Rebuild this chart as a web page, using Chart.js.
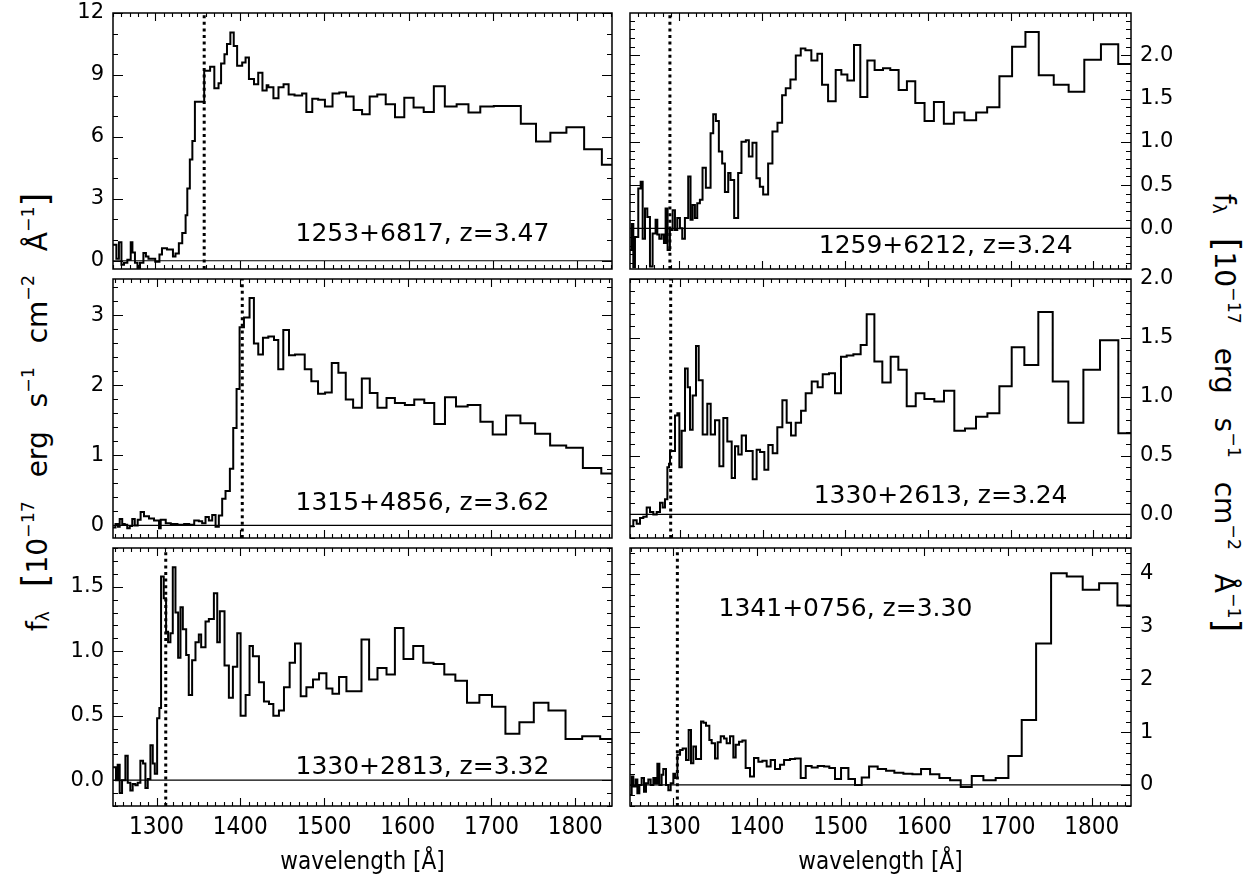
<!DOCTYPE html>
<html>
<head>
<meta charset="utf-8">
<title>Quasar spectra</title>
<script src="https://cdn.jsdelivr.net/npm/chart.js@4.4.1/dist/chart.umd.min.js"></script>
<style>
  html, body { margin: 0; padding: 0; background: #fff; }
  body { position: relative; width: 1249px; height: 886px; overflow: hidden; }
  .panel { position: absolute; }
  .ytitle { position: absolute; white-space: nowrap; font-family: 'DejaVu Sans', sans-serif;
            font-size: 28px; color: #000; word-spacing: 15px; }
  .ytitle sup { font-size: 62%; vertical-align: 0.75em; line-height: 0; word-spacing: 0; }
  .ytitle sub { font-size: 62%; vertical-align: -0.1em; line-height: 0; }
  .ytitle .br { font-size: 125%; }
</style>
</head>
<body>
<div class="ytitle" style="left:35px;top:412px;transform:translate(-50%,-50%) rotate(-90deg)">f<sub>λ</sub> <span class="br">[</span>10<sup>−17</sup> erg s<sup>−1</sup> cm<sup>−2</sup> Å<sup>−1</sup><span class="br">]</span></div>
<div class="ytitle" style="left:1227px;top:413px;transform:translate(-50%,-50%) rotate(90deg)">f<sub>λ</sub> <span class="br">[</span>10<sup>−17</sup> erg s<sup>−1</sup> cm<sup>−2</sup> Å<sup>−1</sup><span class="br">]</span></div>

<script>
// object names shown inside each panel
const names = ['1253+6817, z=3.47', '1259+6212, z=3.24', '1315+4856, z=3.62',
               '1330+2613, z=3.24', '1330+2813, z=3.32', '1341+0756, z=3.30'];

// dotted marker lines (wavelength)
const markers = [1358, 1288.7, 1402.4, 1288.7, 1311, 1304.9];

// labelled wavelength ticks
const xTickValues = [1300, 1400, 1500, 1600, 1700, 1800];

// spectra: bin left edges (last value = right edge of last bin) and flux per bin
const wl1 = [1250,1254,1257,1260,1263,1267,1271,1273,1276,1279,1282,1286,1289,1292,1300,1305,1308,1314,1321,1324,
  1328,1332,1336,1338,1341,1344,1347,1358,1365,1370,1375,1378,1382,1385,1389,1393,1397,1403,1407,1411,
  1417,1422,1427,1432,1434,1440,1446,1452,1458,1465,1474,1479,1486,1493,1501,1510,1518,1526,1535,1545,
  1554,1563,1573,1584,1595,1606,1618,1630,1643,1657,1671,1685,1701,1716,1733,1751,1768,1787,1808,1829,1841];
const fx1 = [0.77,0.1,0.9,-0.2,-0.1,0.05,0.9,0.4,-0.1,-0.35,-0.1,0.37,0.2,0.1,-0.05,0.3,0.6,0.55,0.2,0.35,
  0.85,1.34,2.2,3.5,4.9,5.8,7.7,9.2,9.4,8.35,8.6,9.55,10.0,10.5,11.05,10.4,9.45,9.6,9.85,8.8,
  8.55,9.1,8.25,8.5,8.4,7.87,8.4,8.55,8.05,8.0,8.1,7.2,7.85,7.8,7.47,8.1,8.15,7.95,7.3,7.1,
  7.95,8.05,7.58,6.95,7.9,7.42,7.2,8.45,7.47,7.58,7.18,7.47,7.5,7.5,6.63,5.77,6.2,6.47,5.4,4.65];

const wl2 = [1240.5,1242.5,1244.5,1246.5,1250.5,1253.4,1255.8,1258.6,1261.4,1264.6,1267.8,1271.4,1273.5,1275.9,1278.7,
  1281.5,1283.5,1285.9,1288.7,1292,1294.8,1297.6,1300.8,1303.6,1306.8,1310.8,1313.6,1316.1,1318.9,1321.7,
  1324.9,1328.1,1332.1,1337.8,1341,1344.2,1347.8,1351.8,1355.1,1359.1,1361.9,1366.3,1371.1,1375.1,1380.4,
  1384,1388.4,1393.2,1397.3,1401.3,1407.3,1412.5,1418.6,1424.2,1428.6,1434.2,1440.7,1446.7,1452.3,1459.5,
  1466.8,1472.4,1479.7,1488.9,1495.7,1503,1511,1518.6,1527.1,1535.9,1546,1554.8,1564.9,1574.9,1585,
  1596.2,1607.5,1619.5,1631.6,1644.4,1658.5,1671.8,1686.6,1701.9,1718,1734.1,1752.2,1770.2,1789.1,1809.2,
  1830.1,1845.5];
const fx2 = [-0.25,0.05,-0.45,-0.1,0.46,0.54,-0.12,0.23,0.13,-0.44,-0.06,0.1,-0.07,-0.12,-0.07,
  -0.17,0.23,-0.25,-0.02,0.21,-0.02,0.12,0,-0.12,0.12,0.6,0.1,0.27,0.12,0.29,
  0.33,0.7,0.47,1.1,1.32,1.24,0.89,0.75,0.42,0.64,0.56,0.12,0.64,1.0,1.02,
  0.83,0.99,0.58,0.48,0.39,0.75,1.12,1.22,1.54,1.62,1.72,2.0,2.08,2.06,1.94,
  2.02,1.66,1.47,1.83,1.78,1.71,2.12,1.52,1.94,1.83,1.85,1.83,1.6,1.7,1.45,
  1.24,1.46,1.21,1.34,1.25,1.34,1.4,1.76,2.1,2.27,1.77,1.66,1.58,1.95,2.13,1.9];

const wl3 = [1248,1251,1254,1256,1259,1262,1265,1268,1271,1274,1277.5,1281,1285,1291,1297,1303,1305,1311,1317,1325,
  1333,1339,1345,1350.5,1354.5,1358.5,1362.5,1366.5,1370.5,1374.4,1378.4,1382.4,1387.6,1391.6,1395.6,1399.2,
  1404.4,1411.1,1416.3,1421.5,1427.1,1433.5,1440.3,1445.4,1451.4,1458.2,1465.4,1477,1484.9,1492.9,
  1501.3,1509.3,1517.2,1526,1534.8,1545.2,1554.7,1563.9,1574.7,1584.7,1596.6,1607.8,1619.8,1631.7,1644.5,
  1657.7,1671.6,1686.8,1701.5,1717.5,1734.6,1752.2,1770.1,1789.3,1809.2,1831.2,1844];
const fx3 = [-0.03,0.02,-0.02,0.09,0.02,0.01,-0.04,-0.01,0.09,0,0.08,0.19,0.13,0.1,0.07,-0.04,0.08,0.03,0.02,0.01,
  0.02,0.01,0.07,0.06,0.03,0.12,0.07,0.15,-0.02,0.14,0.38,0.49,0.81,1.39,1.95,2.83,
  2.97,3.25,2.6,2.44,2.68,2.7,2.65,2.23,2.79,2.43,2.44,2.23,2.06,1.88,
  1.9,2.32,2.18,1.8,1.68,2.1,1.89,1.68,1.82,1.75,1.72,1.8,1.75,1.45,1.83,
  1.7,1.72,1.48,1.3,1.57,1.46,1.31,1.14,1.11,0.82,0.74];

const wl4 = [1239.5,1243.5,1247.6,1251.6,1255.6,1259.7,1263.7,1267.7,1271.8,1275.8,1279,1281.8,1284.7,1286.7,1287.9,
  1293.9,1296.8,1299.2,1302,1306,1309.3,1312.1,1315.3,1319.3,1322.6,1327.4,1333,1337.1,1342.3,1347.6,
  1352.4,1357.2,1362.5,1366.5,1370.5,1374.6,1379.8,1387.9,1392.7,1396.8,1402,1406.8,1412.1,1417.7,1423.8,
  1429,1434.3,1439.9,1446.4,1452,1459.3,1466.5,1472.6,1480.2,1487.5,1494.7,1501.6,1509.7,1518.5,1525.8,
  1535.1,1544.7,1554.8,1564.1,1574.2,1585.1,1595.6,1607.6,1619.3,1631.8,1644.7,1658,1671.8,1686.3,1701.2,
  1716.5,1733.4,1750.8,1769.7,1787.9,1808,1830.2,1845.5];
const fx4 = [-0.1,-0.05,-0.08,-0.03,-0.02,0.06,0.02,0,0.02,0.1,0.06,0.13,0.4,0.43,0.54,
  0.84,0.86,0.4,0.71,1.24,1.08,0.72,1.01,1.43,1.14,0.68,0.94,0.68,0.8,0.41,
  0.82,0.62,0.31,0.58,0.51,0.67,0.54,0.3,0.55,0.53,0.38,0.59,0.52,0.74,0.97,
  0.78,0.67,0.78,0.88,1.03,1.13,1.08,1.19,1.2,1.03,1.34,1.35,1.36,1.44,1.7,
  1.3,1.12,1.34,1.23,0.92,1.03,0.98,0.96,1.05,0.71,0.73,0.83,0.86,1.09,1.42,
  1.27,1.72,1.13,0.78,1.23,1.48,0.69];

const wl5 = [1248,1251.6,1253.6,1256,1258.8,1262.8,1265.6,1268.7,1271.5,1274.7,1277.5,1280.7,1283.9,1286.7,1289.5,
  1292.7,1295.5,1297.9,1300.7,1303.4,1305.4,1308.6,1311.4,1313.8,1316.6,1319.4,1322.6,1325.8,1328.6,1331.4,
  1335.4,1338.5,1342.5,1346.5,1350.5,1353.3,1358.5,1362.5,1368.5,1372.5,1375.6,1381.2,1386.4,1391.2,1396.4,
  1400.4,1406.4,1411.1,1415.1,1422.3,1428.3,1434.3,1439.5,1446.2,1452.2,1459,1465.4,1472.2,1479,1486.9,
  1494.1,1502.9,1510.1,1518,1526.8,1536,1544.8,1553.9,1563.9,1574.7,1584.7,1595,1606.6,1618.6,1630.9,
  1643.7,1656.9,1670.8,1685.6,1700.7,1716.7,1733.4,1750.6,1768.1,1788.5,1808.4,1829.9,1844];
const fx5 = [0.1,0,0.12,-0.1,0,0.19,-0.02,-0.08,-0.03,-0.04,-0.02,0.15,0.13,-0.06,0.01,
  0.27,0.13,0.05,0.48,0.56,1.58,1.41,1.15,1.07,1.14,1.65,1.3,0.95,1.34,1.17,
  0.97,0.66,0.93,1.07,1.13,1.03,1.23,1.25,1.45,1.07,1.31,0.89,0.64,0.88,1.14,
  0.5,0.66,1.04,0.96,0.76,0.61,0.59,0.5,0.54,0.72,0.91,1.06,0.65,0.72,0.78,
  0.83,0.71,0.67,0.8,0.69,0.69,1.09,0.78,0.87,0.82,1.18,0.94,1.04,0.91,0.9,
  0.82,0.77,0.6,0.66,0.57,0.36,0.45,0.6,0.54,0.32,0.34,0.32];

const wl6 = [1248.3,1250.3,1252.3,1255.1,1257.1,1259.5,1262.2,1265,1267.4,1270.2,1273,1276.2,1278.6,1281,1283.4,
  1286.1,1288.1,1291.3,1294.1,1296.9,1300.1,1302.1,1304.9,1308.1,1311.2,1315.2,1318.4,1321.2,1324,1327.2,
  1330,1333.2,1336,1339.1,1343.1,1345.9,1349.9,1353.1,1356.7,1360.7,1363.8,1367.8,1371.8,1374.6,1378.6,
  1382.6,1386.5,1391.7,1396.5,1401.7,1406.5,1411.6,1416.4,1421.6,1427.6,1432.4,1439.5,1445.5,1452.3,1458.3,
  1465.4,1472.6,1480.2,1486.5,1493.3,1500.5,1509.3,1517.2,1525.2,1534,1544.3,1554.3,1564.2,1575,1585.8,
  1596.1,1606.9,1618,1630.8,1643.5,1656.7,1670.6,1685.3,1700.5,1716.4,1733.6,1751.5,1770.2,1789.3,1808.9,
  1830.8,1847];
const fx6 = [-0.19,0.16,-0.03,0.1,-0.16,0,0.13,-0.13,0.03,0.1,0,0.13,0.03,0.4,0,
  0.19,0.3,0,-0.1,0.03,0.21,0.13,0.57,0.66,0.69,0.47,1.04,0.41,0.73,0.49,
  0.49,1.2,1.18,1.12,0.85,0.79,0.5,0.81,0.92,0.88,0.79,0.92,0.52,0.76,0.82,
  0.84,0.32,0.16,0.51,0.44,0.46,0.35,0.47,0.3,0.38,0.47,0.49,0.5,0.13,0.36,
  0.33,0.36,0.35,0.32,0.11,0.32,0.11,0,0.14,0.35,0.3,0.27,0.23,0.21,0.2,
  0.3,0.2,0.13,0.09,-0.04,0.17,0.09,0.13,0.55,1.23,2.68,4.01,3.95,3.7,3.82,
  3.4];

// panel layout: axis ranges, tick steps, where the name goes (fraction of plot box)
const panels = [
  {wl: wl1, fx: fx1, xr: [1250, 1841],     yr: [-0.4, 12],    yMajor: 3,   yMinor: 1,   dec: 0, col: 0, row: 0, pos: [0.62, 0.867]},
  {wl: wl2, fx: fx2, xr: [1240.5, 1845.5], yr: [-0.47, 2.49], yMajor: 0.5, yMinor: 0.1, dec: 1, col: 1, row: 0, pos: [0.63, 0.914]},
  {wl: wl3, fx: fx3, xr: [1248, 1844],     yr: [-0.18, 3.52], yMajor: 1,   yMinor: 0.2, dec: 0, col: 0, row: 1, pos: [0.62, 0.865]},
  {wl: wl4, fx: fx4, xr: [1239.5, 1845.5], yr: [-0.2, 2.0],   yMajor: 0.5, yMinor: 0.1, dec: 1, col: 1, row: 1, pos: [0.62, 0.84]},
  {wl: wl5, fx: fx5, xr: [1248, 1844],     yr: [-0.2, 1.8],   yMajor: 0.5, yMinor: 0.1, dec: 1, col: 0, row: 2, pos: [0.62, 0.85]},
  {wl: wl6, fx: fx6, xr: [1248.3, 1847],   yr: [-0.4, 4.49],  yMajor: 1,   yMinor: 0.2, dec: 0, col: 1, row: 2, pos: [0.43, 0.24]}
];

// boxes around each canvas so the plot area lands where the figure has it
const cols = [
  {left: 13,  width: 607, padL: 0,  padR: 8, yW: 100, side: 'left'},
  {left: 616, width: 633, padL: 14, padR: 0, yW: 118, side: 'right'}
];
const rows = [
  {top: -1,  height: 275, padT: 14, xH: 5},
  {top: 265, height: 278, padT: 14, xH: 5},
  {top: 534, height: 352, padT: 14, xH: 80}
];

const FONT = "'DejaVu Sans', sans-serif";
const NARROW = "'Liberation Sans Narrow', 'DejaVu Sans Condensed', 'DejaVu Sans', sans-serif";

function isMajor(v, step) {
  const r = v / step;
  return Math.abs(r - Math.round(r)) < 1e-6;
}

// IDL-like box: frame, inward ticks on all four sides, object name
const boxPlugin = {
  id: 'boxPlugin',
  afterDatasetsDraw(chart, args, o) {
    const {ctx, chartArea: a} = chart;
    const x = chart.scales.x, y = chart.scales.y;
    ctx.save();
    ctx.strokeStyle = '#000';
    ctx.lineWidth = 1.5;
    ctx.strokeRect(a.left, a.top, a.right - a.left, a.bottom - a.top);
    ctx.lineWidth = 1.1;
    ctx.beginPath();
    for (let k = Math.ceil(x.min / o.xMinor - 1e-6); k * o.xMinor <= x.max + 1e-6; k++) {
      const v = k * o.xMinor;
      const px = Math.round(x.getPixelForValue(v)) + 0.5;
      const len = isMajor(v, o.xMajor) ? 8 : 4;
      ctx.moveTo(px, a.bottom); ctx.lineTo(px, a.bottom - len);
      ctx.moveTo(px, a.top); ctx.lineTo(px, a.top + len);
    }
    for (let k = Math.ceil(y.min / o.yMinor - 1e-6); k * o.yMinor <= y.max + 1e-6; k++) {
      const v = k * o.yMinor;
      const py = Math.round(y.getPixelForValue(v)) + 0.5;
      const len = isMajor(v, o.yMajor) ? 10 : 5;
      ctx.moveTo(a.left, py); ctx.lineTo(a.left + len, py);
      ctx.moveTo(a.right, py); ctx.lineTo(a.right - len, py);
    }
    ctx.stroke();
    ctx.fillStyle = '#000';
    ctx.font = '25px ' + FONT;
    ctx.textAlign = 'center';
    ctx.textBaseline = 'middle';
    ctx.fillText(o.name, a.left + o.pos[0] * (a.right - a.left), a.top + o.pos[1] * (a.bottom - a.top));
    ctx.restore();
  }
};

panels.forEach((p, i) => {
  const c = cols[p.col], r = rows[p.row];
  const bottomRow = p.row === 2;

  const box = document.createElement('div');
  box.className = 'panel';
  box.style.left = c.left + 'px';
  box.style.top = r.top + 'px';
  const canvas = document.createElement('canvas');
  canvas.width = c.width;
  canvas.height = r.height;
  box.appendChild(canvas);
  document.body.appendChild(box);

  // steps: each flux value holds from its edge to the next one
  const spectrum = p.fx.map((f, j) => ({x: p.wl[j], y: f}));
  spectrum.push({x: p.wl[p.wl.length - 1], y: p.fx[p.fx.length - 1]});

  // major flux ticks: multiples of yMajor inside the range
  const yTickValues = [];
  for (let k = Math.ceil(p.yr[0] / p.yMajor - 1e-6); k * p.yMajor <= p.yr[1] + 1e-6; k++) {
    yTickValues.push(+(k * p.yMajor).toFixed(3));
  }

  new Chart(canvas, {
    type: 'line',
    data: {
      datasets: [
        {data: [{x: p.xr[0], y: 0}, {x: p.xr[1], y: 0}], borderColor: '#000', borderWidth: 1.2, pointRadius: 0},
        {data: [{x: markers[i], y: p.yr[0]}, {x: markers[i], y: p.yr[1]}], borderColor: '#000',
         borderWidth: 3, borderDash: [3, 3.6], borderCapStyle: 'butt', pointRadius: 0},
        {data: spectrum, stepped: true, borderColor: '#000', borderWidth: 2, pointRadius: 0, fill: false}
      ]
    },
    options: {
      responsive: false,
      animation: false,
      devicePixelRatio: 1,
      layout: {padding: {left: c.padL, right: c.padR, top: r.padT, bottom: 0}},
      plugins: {
        legend: {display: false},
        tooltip: {enabled: false},
        boxPlugin: {xMinor: 10, xMajor: 100, yMinor: p.yMinor, yMajor: p.yMajor, name: names[i], pos: p.pos}
      },
      scales: {
        x: {
          type: 'linear',
          min: p.xr[0], max: p.xr[1],
          grid: {display: false, drawTicks: false},
          border: {display: false},
          afterBuildTicks: s => { s.ticks = xTickValues.map(v => ({value: v})); },
          ticks: {
            display: bottomRow, autoSkip: false, maxRotation: 0, minRotation: 0,
            padding: 7, color: '#000', font: {family: NARROW, size: 24},
            callback: v => String(v)
          },
          title: {
            display: bottomRow, text: 'wavelength [Å]', color: '#000',
            font: {family: NARROW, size: 24}, padding: {top: 0, bottom: 9}
          },
          afterFit: s => { s.height = r.xH; s.paddingLeft = 0; s.paddingRight = 0; }
        },
        y: {
          type: 'linear',
          position: c.side,
          min: p.yr[0], max: p.yr[1],
          grid: {display: false, drawTicks: false},
          border: {display: false},
          afterBuildTicks: s => { s.ticks = yTickValues.map(v => ({value: v})); },
          ticks: {
            autoSkip: false,
            padding: 9, color: '#000', font: {family: FONT, size: 21},
            callback: v => Number(v).toFixed(p.dec)
          },
          afterFit: s => { s.width = c.yW; s.paddingTop = 0; s.paddingBottom = 0; }
        }
      }
    },
    plugins: [boxPlugin]
  });
});
</script>
</body>
</html>
